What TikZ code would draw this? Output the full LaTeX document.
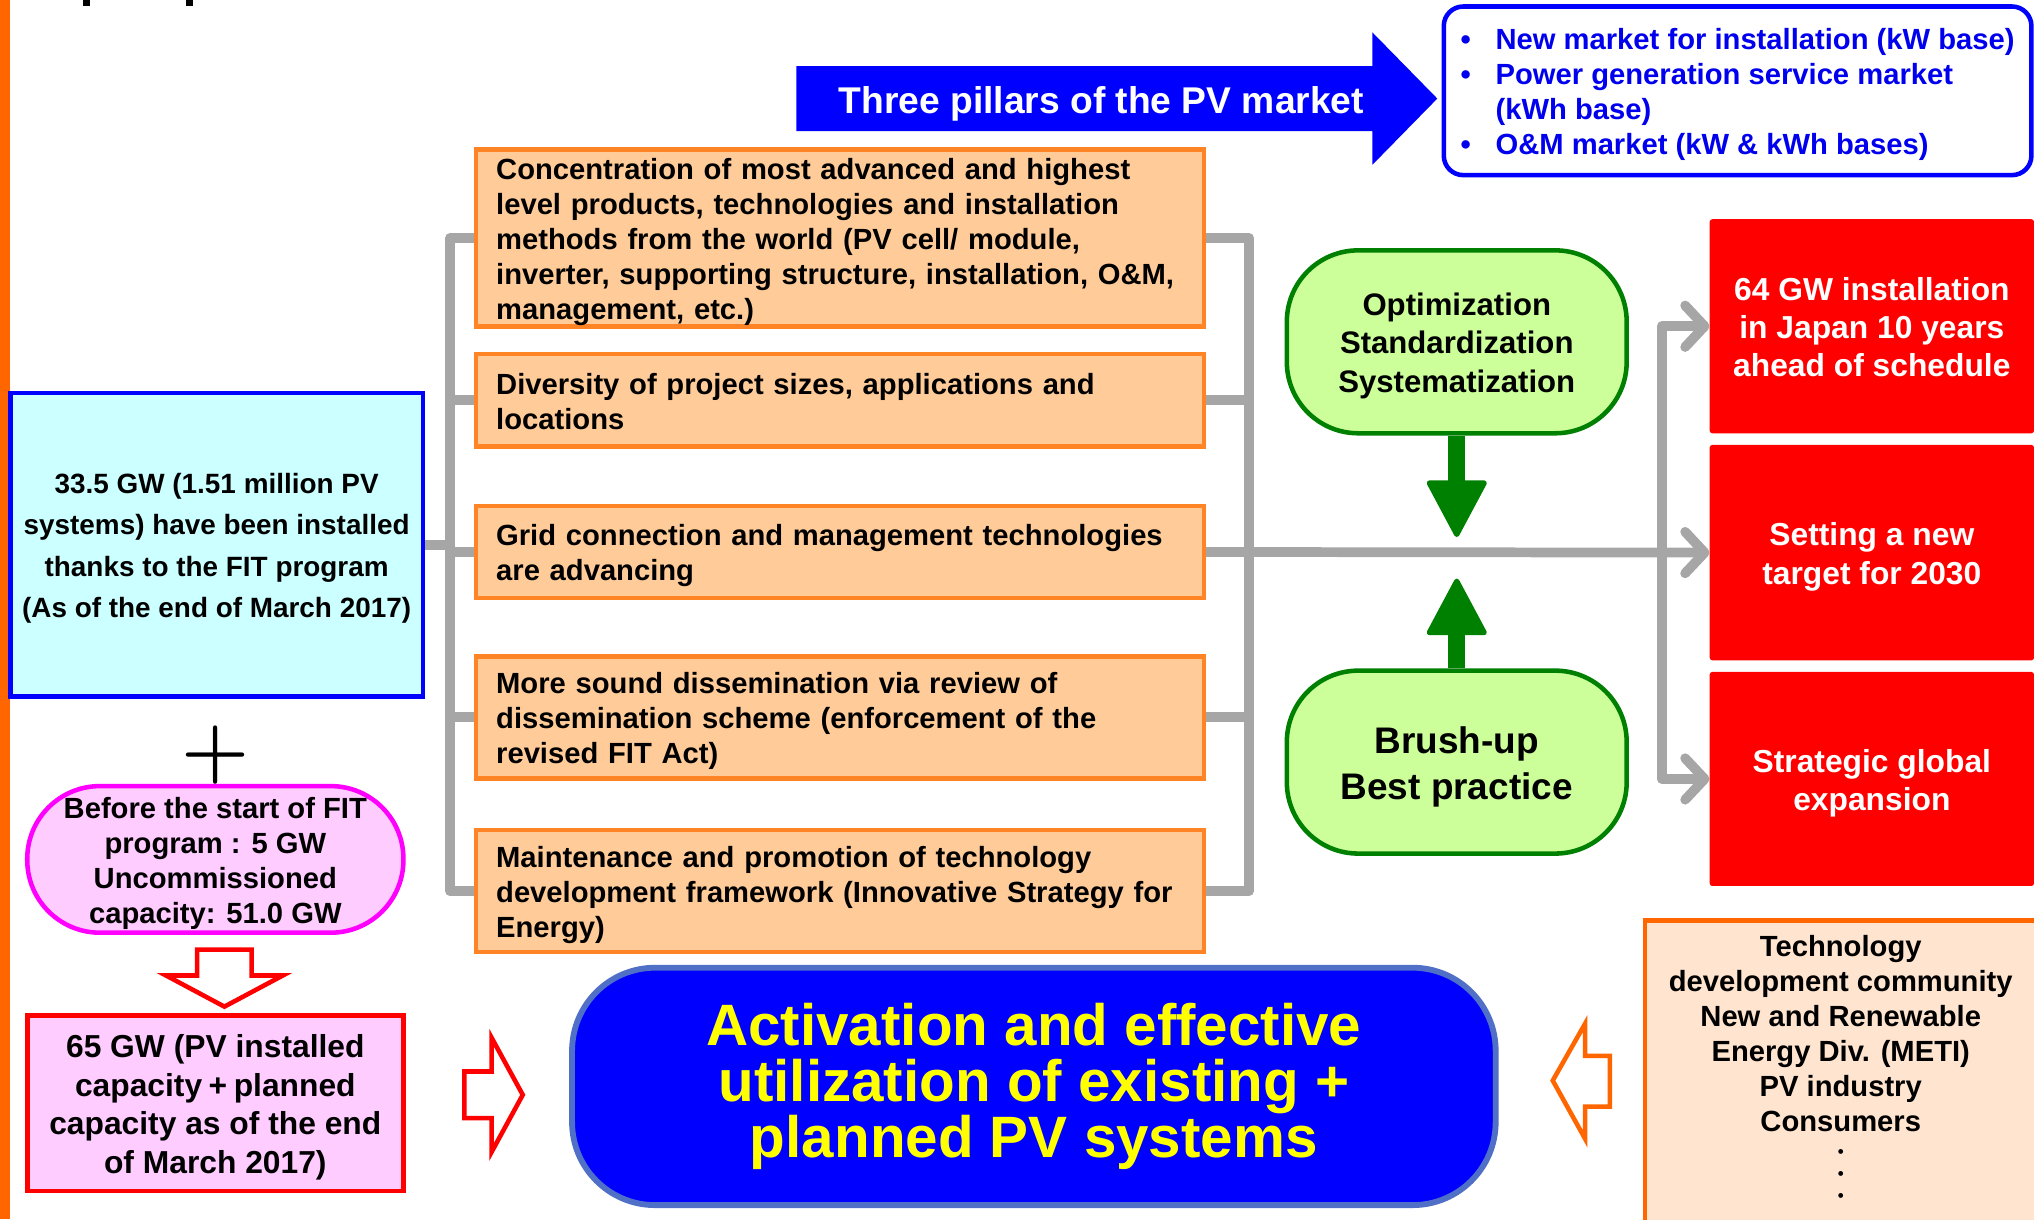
\documentclass[tikz,border=0pt]{standalone}
\usepackage{fontspec}
\newfontfamily\arial{Liberation Sans}
\usetikzlibrary{arrows.meta}
\newcommand\ts{\rule{0pt}{1.02em}}
\newcommand\bs{\rule[-0.24em]{0pt}{0pt}}
\definecolor{obar}{HTML}{FF6600}
\definecolor{ofill}{HTML}{FFCC99}
\definecolor{oline}{HTML}{FF8426}
\definecolor{gline}{HTML}{A6A6A6}
\definecolor{gfill}{HTML}{CCFF99}
\definecolor{gdark}{HTML}{008000}
\definecolor{rfill}{HTML}{FF0000}
\definecolor{cfill}{HTML}{CCFFFF}
\definecolor{bblue}{HTML}{0000FF}
\definecolor{btext}{HTML}{0000EE}
\definecolor{pfill}{HTML}{FFCCFF}
\definecolor{mag}{HTML}{FF00FF}
\definecolor{bigline}{HTML}{5070C8}
\definecolor{yel}{HTML}{FFFF00}
\definecolor{tfill}{HTML}{FFE5D0}
\definecolor{tline}{HTML}{FF6600}
\begin{document}
\begin{tikzpicture}[x=1pt,y=-1pt,
  every node/.style={inner sep=0pt},
  obox/.style={draw=oline, fill=ofill, line width=3.5pt, minimum width=561pt,
    text width=530pt, inner xsep=15.5pt, align=left,
    font=\arial\bfseries\fontsize{22.5}{27}\selectfont},
  gbox/.style={draw=gdark, fill=gfill, line width=3.5pt, rounded corners=55pt,
    minimum width=262pt, minimum height=141pt, align=center},
  rbox/.style={fill=rfill, minimum width=250pt, text=white, align=center,
    rounded corners=2pt, font=\arial\bfseries\fontsize{24.5}{29.5}\selectfont},
  gl/.style={draw=gline, line width=7.5pt, line join=round},
  chev/.style={-{Straight Barb[length=15pt,width=32pt,round]}},
  garrow/.style={draw=gdark, line width=13pt,
    -{Triangle[length=46pt,width=48pt,line width=4pt,round]}},
  hollow/.style={fill=white, line width=3.5pt, line join=miter}
]
\useasboundingbox (0,0) rectangle (1568,940);
\clip (0,0) rectangle (1568,940);

% left orange bar and title fragments
\fill[obar] (0,0) rectangle (7.7,940);
\fill (64,0) rectangle (69,4.6);
\fill (143,0) rectangle (149,4.6);

% three pillars arrow
\fill[bblue] (614,51) -- (1058,51) -- (1058,25) -- (1108,76) -- (1058,127)
  -- (1058,101) -- (614,101) -- cycle;
\node[text=white, font=\arial\bfseries\fontsize{28.7}{33}\selectfont] (pillars) at (849,76) {\ts Three pillars of the PV market\bs};

% markets box
\node[draw=bblue, fill=white, line width=3.5pt, rounded corners=15pt,
  minimum width=453pt, minimum height=130pt, align=left, text=btext,
  font=\arial\bfseries\fontsize{22.5}{27}\selectfont] (markets) at (1339.5,70)
  {\ts\makebox[27pt][l]{•}New market for installation (kW base)\\
   \makebox[27pt][l]{•}Power generation service market\\
   \hspace*{27pt}(kWh base)\\
   \makebox[27pt][l]{•}O\&M market (kW \& kWh bases)\bs};

% orange boxes
\node[obox, minimum height=135pt] (o1) at (647.5,183.5) {\ts Concentration of most advanced and highest\\ level products, technologies and installation\\ methods from the world (PV cell/ module,\\ inverter, supporting structure, installation, O\&M,\\ management, etc.)\bs};
\node[obox, minimum height=71pt] (o2) at (647.5,308.5) {\ts Diversity of project sizes, applications and\\ locations\bs};
\node[obox, minimum height=71pt] (o3) at (647.5,425.5) {\ts Grid connection and management technologies\\ are advancing\bs};
\node[obox, minimum height=94pt] (o4) at (647.5,553) {\ts More sound dissemination via review of\\ dissemination scheme (enforcement of the\\ revised FIT Act)\bs};
\node[obox, minimum height=94pt] (o5) at (647.5,687) {\ts Maintenance and promotion of technology\\ development framework (Innovative Strategy for\\ Energy)\bs};

% left column
\node[draw=bblue, fill=cfill, line width=3.5pt, minimum width=318pt, minimum height=234pt,
  align=center, font=\arial\bfseries\fontsize{21.5}{32}\selectfont] (fit) at (167,420)
  {\ts 33.5 GW (1.51 million PV\\ systems) have been installed\\ thanks to the FIT program\\ (As of the end of March 2017)\bs};
\node[font=\bfseries\fontsize{60}{60}\selectfont] (plus) at (166,582) {+};
\node[draw=mag, fill=pfill, line width=3.5pt, rounded corners=56pt, minimum width=290pt,
  minimum height=113pt, align=center, font=\arial\bfseries\fontsize{22.5}{27}\selectfont] (pre) at (166,662.5)
  {\ts Before the start of FIT\\ program : 5 GW\\ Uncommissioned\\ capacity: 51.0 GW\bs};
\draw[hollow, draw=rfill] (152,732) -- (194,732) -- (194,752) -- (218,752) -- (173,776)
  -- (128,752) -- (152,752) -- cycle;
\node[draw=rfill, fill=pfill, line width=3.5pt, minimum width=290pt, minimum height=135pt,
  align=center, font=\arial\bfseries\fontsize{24.5}{29.7}\selectfont] (total) at (166,850.5)
  {\ts 65 GW (PV installed\\ capacity\kern5pt+\kern5pt planned\\ capacity as of the end\\ of March 2017)\bs};
\draw[hollow, draw=rfill] (358,826) -- (379,826) -- (379,800) -- (403,844) -- (379,888)
  -- (379,862) -- (358,862) -- cycle;

% central box
\node[draw=bigline, fill=bblue, line width=4.5pt, rounded corners=64pt, minimum width=712pt,
  minimum height=183pt, align=center, text=yel,
  font=\arial\bfseries\fontsize{45}{43}\selectfont] (core) at (797,837.5)
  {Activation and effective\\ utilization of existing +\\ planned PV systems};

% bottom right community box
\draw[hollow, draw=tline] (1241,814) -- (1222,814) -- (1222,789) -- (1197,833) -- (1222,878)
  -- (1222,853) -- (1241,853) -- cycle;
\node[draw=tline, fill=tfill, line width=3.5pt, minimum width=302pt, minimum height=250pt,
  anchor=north] (team) at (1419,708) {};
\node[anchor=north, align=center, font=\arial\bfseries\fontsize{22.5}{27}\selectfont] (teamtxt) at (1419,721)
  {Technology\\ development community\\ New and Renewable\\ Energy Div. (METI)\\ PV industry\\ Consumers};
\node[align=center, font=\arial\bfseries\fontsize{13}{17}\selectfont] (dots) at (1419,906) {•\\ •\\ •};

% green nodes
\node[gbox, font=\arial\bfseries\fontsize{24}{29.5}\selectfont] (g1) at (1123,263.5) {\ts Optimization\\ Standardization\\ Systematization\bs};
\node[gbox, font=\arial\bfseries\fontsize{28.5}{35}\selectfont] (g2) at (1123,587.5) {\ts Brush-up\\ Best practice\bs};

% red target boxes
\node[rbox, minimum height=165pt] (r1) at (1443,251.5) {\ts 64 GW installation\\ in Japan 10 years\\ ahead of schedule\bs};
\node[rbox, minimum height=166pt] (r2) at (1443,426) {\ts Setting a new\\ target for 2030\bs};
\node[rbox, minimum height=165pt] (r3) at (1443,600.5) {\ts Strategic global\\ expansion\bs};

% gray connectors
\coordinate (lb) at (347,425);
\coordinate (rbus) at (963,425);
\coordinate (rb) at (1281,425);
\draw[gl] (o1.west) -- (o1.west -| lb) -- (o5.west -| lb) -- (o5.west);
\foreach \n in {o2,o3,o4} \draw[gl] (\n.west) -- (\n.west -| lb);
\draw[gl] (fit.east) -- (fit.east -| lb);
\draw[gl] (o1.east) -- (o1.east -| rbus) -- (o5.east -| rbus) -- (o5.east);
\foreach \n in {o2,o4} \draw[gl] (\n.east) -- (\n.east -| rbus);
\draw[gl,chev] (o3.east) -- (r2.west);
\draw[gl,chev] (rb) |- (r1.west);
\draw[gl,chev] (rb) |- (r3.west);

% green arrows
\coordinate (gt1) at (1123,414);
\coordinate (gt2) at (1123,446);
\draw[garrow] (g1.south) -- (gt1);
\draw[garrow] (g2.north) -- (gt2);
\end{tikzpicture}
\end{document}
